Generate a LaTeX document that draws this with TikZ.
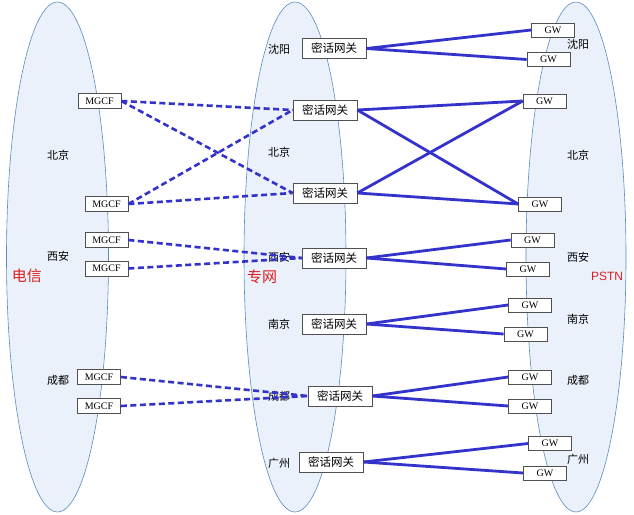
\documentclass[tikz,border=0pt]{standalone}
\usepackage{fontspec}
\setmainfont{Liberation Serif}
\newfontfamily\cjk{Noto Sans CJK SC}
\newfontfamily\sansf{Liberation Sans}
\definecolor{lnk}{RGB}{51,51,204}
\definecolor{zonefill}{RGB}{234,241,251}
\definecolor{zoneline}{RGB}{90,140,190}
\definecolor{boxline}{RGB}{80,80,80}
\definecolor{lblred}{RGB}{220,30,30}
\begin{document}
\begin{tikzpicture}[x=1pt,y=-1pt,
  zone/.style={draw=zoneline,line width=0.6pt,fill=zonefill},
  mgcf/.style={draw=boxline,line width=0.7pt,fill=white,minimum width=43pt,minimum height=15pt,inner sep=0pt,font=\fontsize{10}{10}\selectfont},
  gw/.style={draw=boxline,line width=0.7pt,fill=white,minimum width=43pt,minimum height=14pt,inner sep=0pt,font=\fontsize{10}{10}\selectfont},
  mgw/.style={draw=boxline,line width=0.7pt,fill=white,minimum width=64pt,minimum height=20pt,inner sep=0pt,font=\cjk\fontsize{11.5}{12}\selectfont},
  city/.style={font=\cjk\fontsize{11}{12}\selectfont,inner sep=0pt},
  zname/.style={text=lblred,inner sep=0pt},
  dl/.style={draw=lnk,line width=2.6pt,dash pattern=on 6pt off 3.5pt},
  sl/.style={draw=lnk,line width=2.8pt}
]
\useasboundingbox (0,0) rectangle (634,514);
% zones
\draw[zone] (57.5,257) ellipse [x radius=51pt, y radius=255pt];
\draw[zone] (295,257) ellipse [x radius=51pt, y radius=255pt];
\draw[zone] (576,257) ellipse [x radius=50pt, y radius=255pt];
% left labels
\node[city] (lbj) at (58,155) {北京};
\node[city] (lxa) at (58,256) {西安};
\node[city] (lcd) at (58,380) {成都};
\node[zname,font=\cjk\fontsize{15}{16}\selectfont] (ldx) at (27,276) {电信};
% middle labels
\node[city] (msy) at (279,49) {沈阳};
\node[city] (mbj) at (279,152) {北京};
\node[city] (mxa) at (279,257) {西安};
\node[city] (mnj) at (279,324) {南京};
\node[city] (mcd) at (279,396) {成都};
\node[city] (mgz) at (279,463) {广州};
\node[zname,font=\cjk\fontsize{15}{16}\selectfont] (mzw) at (262,277) {专网};
% right labels
\node[city] (rsy) at (578,44) {沈阳};
\node[city] (rbj) at (578,155) {北京};
\node[city] (rxa) at (578,257) {西安};
\node[city] (rnj) at (578,319) {南京};
\node[city] (rcd) at (578,380) {成都};
\node[city] (rgz) at (578,459) {广州};
\node[zname,font=\sansf\fontsize{12}{13}\selectfont] (rpstn) at (607,276) {PSTN};
% MGCF
\node[mgcf] (m1) at (99.5,101) {MGCF};
\node[mgcf] (m2) at (106.5,204) {MGCF};
\node[mgcf] (m3) at (106.5,240) {MGCF};
\node[mgcf] (m4) at (106.5,268.5) {MGCF};
\node[mgcf] (m5) at (99,377) {MGCF};
\node[mgcf] (m6) at (99,406) {MGCF};
% secure gateways
\node[mgw] (g1) at (334,48.5) {密话网关};
\node[mgw] (g2) at (325,110) {密话网关};
\node[mgw] (g3) at (325,193) {密话网关};
\node[mgw] (g4) at (334,258) {密话网关};
\node[mgw] (g5) at (334,324) {密话网关};
\node[mgw] (g6) at (340,396) {密话网关};
\node[mgw] (g7) at (331,462) {密话网关};
% GW
\node[gw] (w1) at (553,30) {GW};
\node[gw] (w2) at (548.5,59.5) {GW};
\node[gw] (w3) at (544.5,101) {GW};
\node[gw] (w4) at (540,204) {GW};
\node[gw] (w5) at (532.5,240) {GW};
\node[gw] (w6) at (528,269) {GW};
\node[gw] (w7) at (530,305) {GW};
\node[gw] (w8) at (525.5,334) {GW};
\node[gw] (w9) at (530,377) {GW};
\node[gw] (w10) at (530,406) {GW};
\node[gw] (w11) at (550,443.5) {GW};
\node[gw] (w12) at (545,473) {GW};
% dashed links
\draw[dl] (m1.east) -- (g2.west);
\draw[dl] (m1.east) -- (g3.west);
\draw[dl] (m2.east) -- (g2.west);
\draw[dl] (m2.east) -- (g3.west);
\draw[dl] (m3.east) -- (g4.west);
\draw[dl] (m4.east) -- (g4.west);
\draw[dl] (m5.east) -- (g6.west);
\draw[dl] (m6.east) -- (g6.west);
% solid links
\draw[sl] (g1.east) -- (w1.west);
\draw[sl] (g1.east) -- (w2.west);
\draw[sl] (g2.east) -- (w3.west);
\draw[sl] (g2.east) -- (w4.west);
\draw[sl] (g3.east) -- (w3.west);
\draw[sl] (g3.east) -- (w4.west);
\draw[sl] (g4.east) -- (w5.west);
\draw[sl] (g4.east) -- (w6.west);
\draw[sl] (g5.east) -- (w7.west);
\draw[sl] (g5.east) -- (w8.west);
\draw[sl] (g6.east) -- (w9.west);
\draw[sl] (g6.east) -- (w10.west);
\draw[sl] (g7.east) -- (w11.west);
\draw[sl] (g7.east) -- (w12.west);
\end{tikzpicture}
\end{document}
